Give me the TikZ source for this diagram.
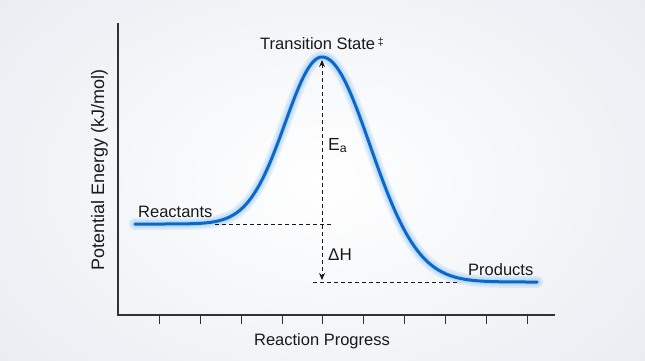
\documentclass[tikz,border=0pt]{standalone}
\usepackage{fontspec}
\setmainfont{Liberation Sans}
\usetikzlibrary{arrows.meta}
\definecolor{curveblue}{RGB}{12,104,200}
\definecolor{glowblue}{RGB}{110,180,240}
\definecolor{axisgray}{RGB}{50,50,50}
\definecolor{bgedge}{RGB}{232,236,241}
\tikzset{
  axisline/.style={draw=axisgray, line width=1.1pt},
  tickline/.style={draw=axisgray, line width=1pt},
  guide/.style={draw=black!90, line width=0.9pt, dash pattern=on 4pt off 3pt},
  energycurve/.style={draw=curveblue, line width=3pt, line cap=round},
  glowcurve/.style={draw=glowblue, line cap=round, opacity=0.18},
  lbl/.style={font=\fontsize{16.5}{19}\selectfont, text=black!90, inner sep=0pt},
}
\newcommand{\curvepath}{(135,224)
  plot[domain=135:322, samples=90] (\x, {224-167*exp(-((\x-322)/52)^2)})
  plot[domain=322:537, samples=100] (\x, {282-225*exp(-((\x-322)/68)^2)})}
\begin{document}
\begin{tikzpicture}[x=1pt,y=-1pt]
\useasboundingbox (0,0) rectangle (645,360);
\shade[inner color=white, outer color=bgedge] (-120,-120) rectangle (765,480);
% coordinates
\coordinate (origin) at (118,315);
\coordinate (ytop) at (118,23);
\coordinate (xend) at (555,315);
\coordinate (peak) at (322,57);
\coordinate (reactR) at (215,224);
\coordinate (reactDashEnd) at (332,224);
\coordinate (prodDashStart) at (313,282);
\coordinate (prodL) at (460,282);
\coordinate (eaTop) at (322,60);
\coordinate (dhBottom) at (322,280);
% axes
\draw[axisline] (ytop) -- (origin) -- (xend);
\foreach \tx in {159,200,241,282,322,363,404,445,486,527}
  \draw[tickline] (\tx,315) -- (\tx,324);
% glow
\draw[glowcurve, line width=12pt] \curvepath;
\draw[glowcurve, line width=8pt] \curvepath;
\draw[glowcurve, line width=5pt] \curvepath;
% dashed guides
\draw[guide] (reactR) -- (reactDashEnd);
\draw[guide] (prodDashStart) -- (prodL);
\draw[guide, {Stealth[length=7pt,width=6pt]}-{Stealth[length=7pt,width=6pt]}] (eaTop) -- (dhBottom);
% curve
\draw[energycurve] \curvepath;
% labels
\node[lbl, anchor=base] (ts) at (322,49) {Transition State\,\raisebox{0.45ex}{\fontsize{10.5}{12}\selectfont ‡}};
\node[lbl, anchor=base west] (react) at (138,217) {Reactants};
\node[lbl, anchor=base west] (prod) at (468,275) {Products};
\node[lbl, font=\fontsize{17.5}{20}\selectfont, anchor=base west] (ea) at (328,150) {E\textsubscript{a}};
\node[lbl, font=\fontsize{17}{20}\selectfont, anchor=base west] (dh) at (328,260) {ΔH};
\node[lbl, anchor=base] (xlab) at (322,345) {Reaction Progress};
\node[lbl, font=\fontsize{18}{21}\selectfont, anchor=base, rotate=90] (ylab) at (104,170) {Potential Energy (kJ/mol)};
\end{tikzpicture}
\end{document}
